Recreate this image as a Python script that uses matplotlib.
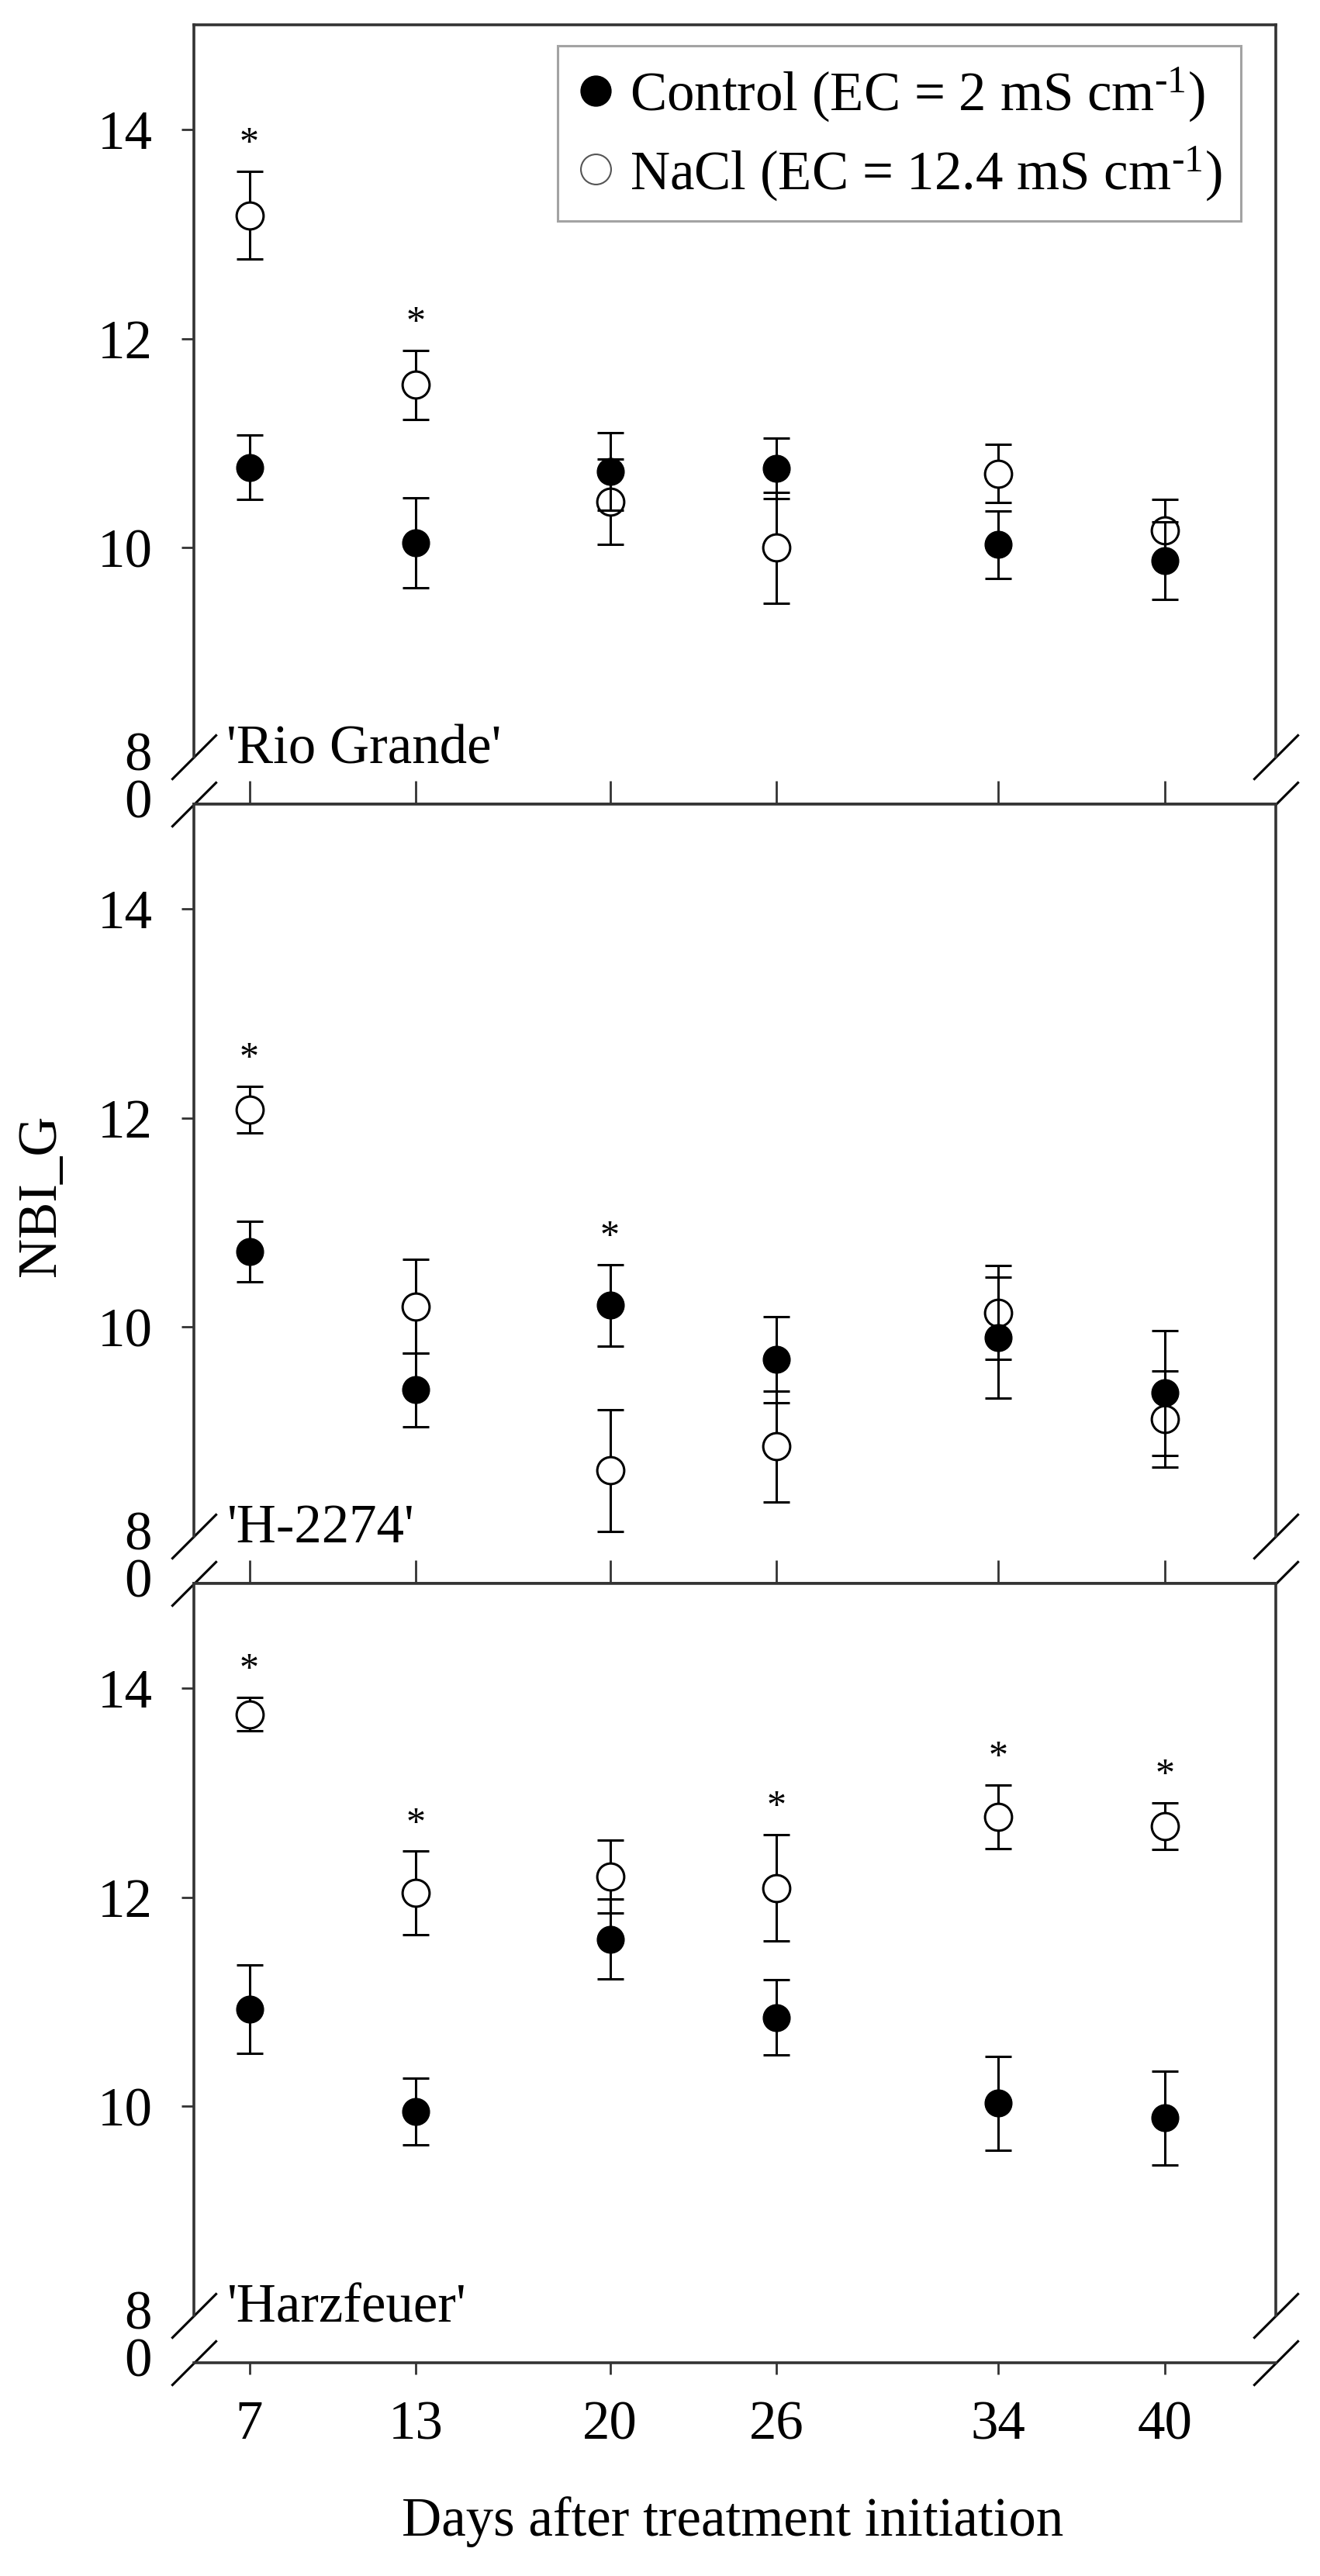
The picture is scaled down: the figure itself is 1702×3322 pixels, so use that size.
"""NBI_G over days after treatment initiation for three cultivars, control vs NaCl."""
import matplotlib
matplotlib.use("Agg")
import matplotlib.pyplot as plt
from matplotlib.lines import Line2D

plt.rcParams["font.family"] = ["Liberation Serif", "DejaVu Serif"]
plt.rcParams["mathtext.fontset"] = "custom"
plt.rcParams["mathtext.rm"] = "Liberation Serif"
plt.rcParams["mathtext.it"] = "Liberation Serif:italic"

days = [7, 13, 20, 26, 34, 40]
cultivars = ["'Rio Grande'", "'H-2274'", "'Harzfeuer'"]

rio_control = [10.77, 10.05, 10.73, 10.76, 10.03, 9.88]
rio_control_se = [0.31, 0.43, 0.37, 0.29, 0.32, 0.37]
rio_nacl = [13.18, 11.56, 10.44, 10.00, 10.71, 10.17]
rio_nacl_se = [0.42, 0.33, 0.41, 0.53, 0.28, 0.29]
rio_sig = [True, True, False, False, False, False]

h_control = [10.72, 9.40, 10.21, 9.69, 9.90, 9.37]
h_control_se = [0.29, 0.355, 0.39, 0.41, 0.58, 0.60]
h_nacl = [12.08, 10.20, 8.63, 8.86, 10.14, 9.12]
h_nacl_se = [0.22, 0.45, 0.58, 0.53, 0.45, 0.46]
h_sig = [True, False, True, False, False, False]

harz_control = [10.93, 9.95, 11.60, 10.85, 10.03, 9.89]
harz_control_se = [0.42, 0.32, 0.38, 0.36, 0.45, 0.45]
harz_nacl = [13.75, 12.04, 12.20, 12.09, 12.77, 12.68]
harz_nacl_se = [0.16, 0.40, 0.35, 0.51, 0.305, 0.22]
harz_sig = [True, True, False, True, True, True]

panels = [
    (rio_control, rio_control_se, rio_nacl, rio_nacl_se, rio_sig),
    (h_control, h_control_se, h_nacl, h_nacl_se, h_sig),
    (harz_control, harz_control_se, harz_nacl, harz_nacl_se, harz_sig),
]

W, H = 1702, 3322
FS = 51
SPINE = "#333333"
Y_BREAK = 8
Y_ZERO = 7.55  # axis bottom, labelled "0" below the break

fig = plt.figure(figsize=(W / 100, H / 100), dpi=100)

left, right = 250, 1645
tops = [32, 1037, 2042]
height = 1005

for i, (ctl, ctl_se, nacl, nacl_se, sig) in enumerate(panels):
    ax = fig.add_axes([left / W, 1 - (tops[i] + height) / H,
                       (right - left) / W, height / H])
    ax.set_xlim(5, 44)
    ax.set_ylim(Y_ZERO, 15)

    ax.errorbar(days, nacl, yerr=nacl_se, fmt="o", ms=25, mfc="white",
                mec="black", mew=2.2, ecolor="black", elinewidth=2.2,
                capsize=12, capthick=2.2, zorder=3)
    ax.errorbar(days, ctl, yerr=ctl_se, fmt="o", ms=25, mfc="black",
                mec="black", ecolor="black", elinewidth=2.2,
                capsize=12, capthick=2.2, zorder=4)

    for d, c, cs, n, ns, s in zip(days, ctl, ctl_se, nacl, nacl_se, sig):
        if s:
            top = max(c + cs, n + ns)
            ax.text(d, top + 0.26, "*", ha="center", va="center",
                    fontsize=36, zorder=5)

    for side in ["left", "right"]:
        ax.spines[side].set_bounds(Y_BREAK, 15)
    for sp in ax.spines.values():
        sp.set_color(SPINE)
        sp.set_linewidth(2.6)

    ax.set_yticks([10, 12, 14])
    ax.tick_params(axis="y", direction="out", length=11.5, width=2,
                   color=SPINE, labelsize=FS, pad=27)
    ax.set_xticks(days)
    if i < 2:
        ax.tick_params(axis="x", direction="in", length=21.5, width=2,
                       color=SPINE, labelbottom=False)
    else:
        ax.tick_params(axis="x", direction="out", length=10.8, width=2,
                       color=SPINE, labelsize=FS, pad=24)

    # break labels and slashes
    for val, lab in [(Y_BREAK, "8"), (Y_ZERO, "0")]:
        ax.annotate(lab, xy=(0, val), xycoords=ax.get_yaxis_transform(),
                    xytext=(-38.9, 0), textcoords="offset points",
                    ha="right", va="center", fontsize=FS)
    ax.plot([0, 0, 1, 1], [Y_BREAK, Y_ZERO, Y_BREAK, Y_ZERO],
            transform=ax.get_yaxis_transform(), marker=[(-1, -1), (1, 1)],
            markersize=42, mew=2.2, ls="none", color="black", clip_on=False)

    ax.text(0.03, 7.94, cultivars[i], transform=ax.get_yaxis_transform(),
            ha="left", va="baseline", fontsize=FS)

    if i == 0:
        handles = [
            Line2D([], [], ls="none", marker="o", ms=28, mfc="black", mec="black"),
            Line2D([], [], ls="none", marker="o", ms=28, mfc="white", mec="#555555",
                   mew=1.5),
        ]
        labels = [r"Control (EC = 2 mS cm$^{\text{-}1}$)",
                  r"NaCl (EC = 12.4 mS cm$^{\text{-}1}$)"]
        leg = ax.legend(handles, labels, loc="upper right",
                        bbox_to_anchor=(0.968, 0.973), borderaxespad=0,
                        fontsize=FS, frameon=True, fancybox=False,
                        handlelength=0.68, handletextpad=0.28,
                        labelspacing=0.38, borderpad=0.35)
        leg.get_frame().set_edgecolor("#8c8c8c")
        leg.get_frame().set_linewidth(2.2)

fig.text(54 / W, 1 - 1542 / H, "NBI_G", rotation=90, ha="center",
         va="center", fontsize=FS)
fig.text(945 / W, 1 - 3252 / H, "Days after treatment initiation",
         ha="center", va="center", fontsize=FS)

fig.savefig("out.png", dpi=100)
